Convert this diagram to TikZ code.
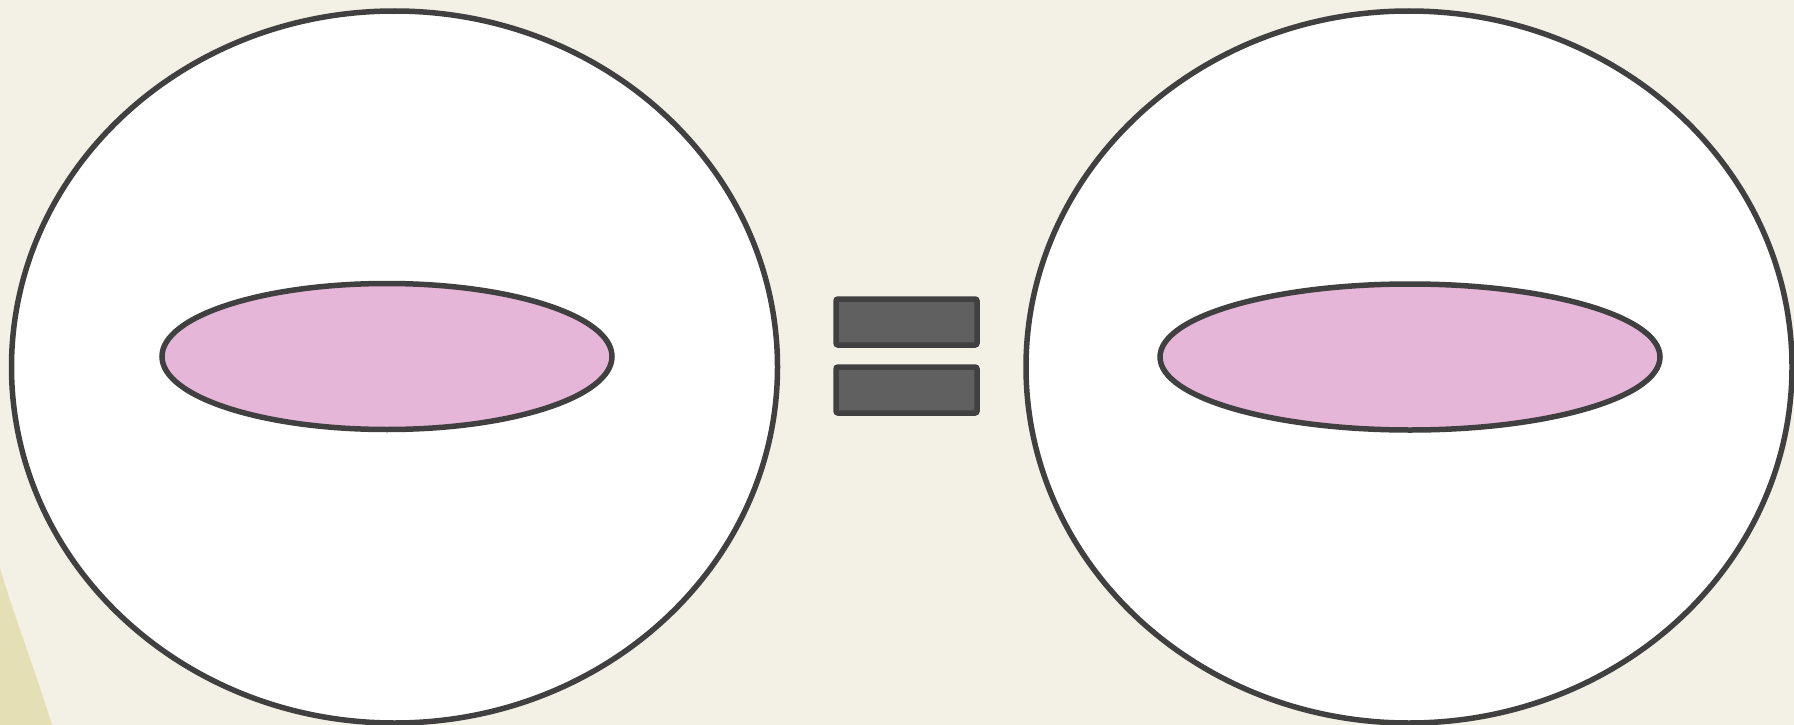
\documentclass[tikz,border=0pt]{standalone}
\usetikzlibrary{shapes.geometric}
\definecolor{bgc}{HTML}{F3F0E5}
\definecolor{edgec}{HTML}{404040}
\definecolor{pinkc}{HTML}{E6B6D8}
\definecolor{barc}{HTML}{606060}
\definecolor{yelc}{HTML}{E4DFB4}
\tikzset{
  bigcell/.style={ellipse, draw=edgec, fill=white, line width=5.5pt, inner sep=0pt, minimum width=766pt, minimum height=712pt},
  nucleus/.style={ellipse, draw=edgec, fill=pinkc, line width=5.5pt, inner sep=0pt, minimum height=146pt},
  eqbar/.style={rectangle, draw=edgec, fill=barc, line width=5.5pt, rounded corners=2pt, inner sep=0pt, minimum width=141pt, minimum height=46pt}
}
\begin{document}
\begin{tikzpicture}[x=1pt,y=-1pt]
\useasboundingbox (0,0) rectangle (1794,725);
\fill[bgc] (0,0) rectangle (1794,725);
\fill[yelc] (0,568) .. controls (12,610) and (35,670) .. (52,725) -- (0,725) -- cycle;
\node[bigcell] (cellA) at (394.5,367) {};
\node[bigcell] (cellB) at (1409,367) {};
\node[nucleus, minimum width=450pt] (nucA) at (387,356.5) {};
\node[nucleus, minimum width=500pt] (nucB) at (1410,357) {};
\node[eqbar] (barT) at (906.5,322) {};
\node[eqbar] (barB) at (906.5,390) {};
\end{tikzpicture}
\end{document}
